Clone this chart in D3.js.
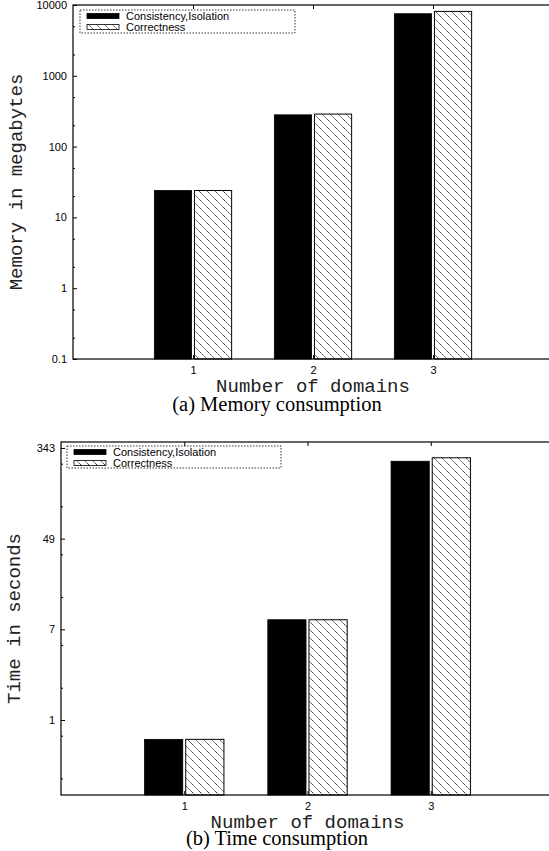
<!DOCTYPE html>
<html>
<head>
<meta charset="utf-8">
<script src="https://cdn.jsdelivr.net/npm/d3@7"></script>
<style>
  body { margin: 0; background: #fff; }
  svg { display: block; }
</style>
</head>
<body>
<svg id="chart" width="549" height="851"></svg>
<script>
// data
var categories = [1, 2, 3];
var seriesNames = ["Consistency,Isolation", "Correctness"];
var memConsistency = [24, 281, 7530];
var memCorrectness = [24, 288, 8120];
var timeConsistency = [0.66, 8.6, 258];
var timeCorrectness = [0.66, 8.6, 278];
var memTicks = [0.1, 1, 10, 100, 1000, 10000];
var timeTicks = [1, 7, 49, 343];

var svg = d3.select("#chart");

// hatch pattern for the second series
var defs = svg.append("defs");
defs.append("pattern")
  .attr("id", "hatch")
  .attr("patternUnits", "userSpaceOnUse")
  .attr("width", 8)
  .attr("height", 8)
  .append("path")
  .attr("d", "M-4,4 L4,12 M0,0 L8,8 M4,-4 L12,4")
  .attr("stroke", "#000")
  .attr("stroke-width", 0.8)
  .attr("stroke-dasharray", "2,1");

var sans = "'Liberation Sans', Arial, Helvetica, sans-serif";
var mono = "'Liberation Mono', 'Courier New', monospace";
var serif = "'Liberation Serif', 'Times New Roman', serif";

function drawPanel(p) {
  var g = svg.append("g");

  var x = d3.scaleLinear().domain([0, 4]).range([p.left, p.right]);
  var y = d3.scaleLog().base(p.base).domain(p.domain).range([p.bottom, p.top]);

  // minor ticks at 2x and 5x of each major tick
  var minor = [];
  p.ticks.concat([p.ticks[0] / p.base]).forEach(function(t) {
    [2, 5].forEach(function(m) {
      var v = t * m;
      if (v > p.domain[0] && v < p.domain[1]) minor.push(v);
    });
  });

  var barW = 0.31, gap = 0.012;
  var rows = categories.map(function(c, i) {
    return { c: c, a: p.a[i], b: p.b[i] };
  });

  // bars
  g.selectAll(".barA")
    .data(rows)
    .enter().append("rect")
    .attr("x", function(d) { return x(d.c - gap - barW); })
    .attr("width", x(barW) - x(0))
    .attr("y", function(d) { return y(d.a); })
    .attr("height", function(d) { return p.bottom - y(d.a); })
    .attr("fill", "#000")
    .attr("stroke", "#000")
    .attr("stroke-width", 0.8);

  g.selectAll(".barB")
    .data(rows)
    .enter().append("rect")
    .attr("x", function(d) { return x(d.c + gap); })
    .attr("width", x(barW) - x(0))
    .attr("y", function(d) { return y(d.b); })
    .attr("height", function(d) { return p.bottom - y(d.b); })
    .attr("fill", "url(#hatch)")
    .attr("stroke", "#000")
    .attr("stroke-width", 1);

  // y axis major
  var yAxis = g.append("g")
    .attr("transform", "translate(" + p.left + ",0)")
    .call(d3.axisLeft(y).tickValues(p.ticks).tickSize(-4).tickSizeOuter(0).tickPadding(6)
      .tickFormat(function(d) { return String(d); }));
  yAxis.select(".domain").remove();
  yAxis.selectAll("text").style("font-family", sans).style("font-size", "11px").attr("fill", "#000");

  // y axis minor
  var yMinor = g.append("g")
    .attr("transform", "translate(" + p.left + ",0)")
    .call(d3.axisLeft(y).tickValues(minor).tickSize(-2).tickSizeOuter(0).tickFormat(""));
  yMinor.select(".domain").remove();

  // x axis
  var xAxis = g.append("g")
    .attr("transform", "translate(0," + p.bottom + ")")
    .call(d3.axisBottom(x).tickValues(categories).tickSize(-4).tickSizeOuter(0).tickPadding(7)
      .tickFormat(d3.format("d")));
  xAxis.select(".domain").remove();
  xAxis.selectAll("text").style("font-family", sans).style("font-size", "11px").attr("fill", "#000");

  var xTop = g.append("g")
    .attr("transform", "translate(0," + p.top + ")")
    .call(d3.axisTop(x).tickValues(categories).tickSize(-4).tickSizeOuter(0).tickFormat(""));
  xTop.select(".domain").remove();

  // frame
  g.append("rect")
    .attr("x", p.left)
    .attr("y", p.top)
    .attr("width", p.right - p.left)
    .attr("height", p.bottom - p.top)
    .attr("fill", "none")
    .attr("stroke", "#000")
    .attr("stroke-width", 1.2);

  // legend
  var lg = g.append("g");
  lg.append("rect")
    .attr("x", p.legend[0])
    .attr("y", p.legend[1])
    .attr("width", p.legend[2])
    .attr("height", p.legend[3])
    .attr("fill", "#fff")
    .attr("stroke", "#000")
    .attr("stroke-width", 0.8)
    .attr("stroke-dasharray", "1.5,1.5");

  var fills = ["#000", "url(#hatch)"];
  lg.selectAll(".key")
    .data(seriesNames)
    .enter().append("rect")
    .attr("x", p.legend[0] + 7)
    .attr("y", function(d, i) { return p.legend[1] + 3.5 + i * 11; })
    .attr("width", 32)
    .attr("height", 5)
    .attr("fill", function(d, i) { return fills[i]; })
    .attr("stroke", "#000")
    .attr("stroke-width", 0.8);

  lg.selectAll(".keyText")
    .data(seriesNames)
    .enter().append("text")
    .attr("x", p.legend[0] + 46)
    .attr("y", function(d, i) { return p.legend[1] + 10 + i * 11; })
    .style("font-family", sans)
    .style("font-size", "11px")
    .text(function(d) { return d; });

  // axis titles
  g.append("text")
    .attr("transform", "translate(" + p.yTitleX + "," + ((p.top + p.bottom) / 2) + ") rotate(-90)")
    .attr("text-anchor", "middle")
    .attr("fill", "#222")
    .style("font-family", mono)
    .style("font-size", "19px")
    .text(p.yTitle);

  g.append("text")
    .attr("x", (p.left + p.right) / 2)
    .attr("y", p.xTitleY)
    .attr("text-anchor", "middle")
    .attr("fill", "#222")
    .style("font-family", mono)
    .style("font-size", "19px")
    .text("Number of domains");

  g.append("text")
    .attr("x", 277)
    .attr("y", p.captionY)
    .attr("text-anchor", "middle")
    .style("font-family", serif)
    .style("font-size", "20.5px")
    .text(p.caption);
}

drawPanel({
  left: 73, right: 553, top: 5, bottom: 359,
  base: 10, domain: [0.1, 10000], ticks: memTicks,
  a: memConsistency, b: memCorrectness,
  legend: [80, 10, 215, 23],
  yTitle: "Memory in megabytes", yTitleX: 22,
  xTitleY: 392, caption: "(a) Memory consumption", captionY: 411
});

drawPanel({
  left: 61, right: 554, top: 442, bottom: 795,
  base: 7, domain: [0.2, 390], ticks: timeTicks,
  a: timeConsistency, b: timeCorrectness,
  legend: [67, 446, 214, 22],
  yTitle: "Time in seconds", yTitleX: 20,
  xTitleY: 828, caption: "(b) Time consumption", captionY: 845
});
</script>
</body>
</html>
